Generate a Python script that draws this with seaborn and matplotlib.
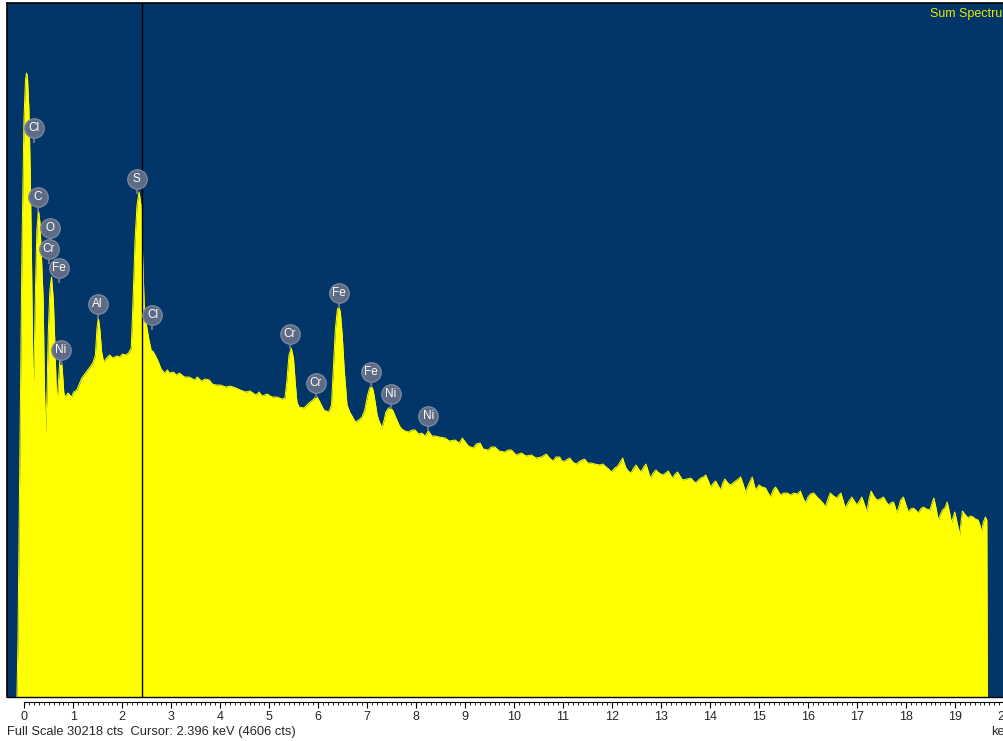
import matplotlib
matplotlib.use("Agg")
import matplotlib.pyplot as plt
import matplotlib.transforms as mtransforms
import seaborn as sns

# spectrum (keV, counts)
kev = [-0.149, -0.128, -0.088, -0.047, -0.006, 0.025, 0.045, 0.065, 0.096, 0.126,
       0.146, 0.166, 0.183, 0.203, 0.228, 0.258, 0.289, 0.320, 0.350, 0.387,
       0.410, 0.435, 0.461, 0.492, 0.523, 0.557, 0.594, 0.625, 0.651, 0.672,
       0.695, 0.726, 0.746, 0.777, 0.807, 0.828, 0.895, 0.964, 1.010, 1.072,
       1.123, 1.174, 1.235, 1.295, 1.356, 1.407, 1.452, 1.485, 1.513, 1.545,
       1.580, 1.621, 1.682, 1.743, 1.804, 1.885, 1.946, 2.007, 2.069, 2.129,
       2.184, 2.221, 2.262, 2.302, 2.343, 2.384, 2.420, 2.454, 2.495, 2.546,
       2.591, 2.638, 2.692, 2.739, 2.794, 2.862, 2.923, 2.964, 3.044, 3.105,
       3.167, 3.269, 3.370, 3.472, 3.533, 3.614, 3.695, 3.777, 3.838, 3.913,
       4.000, 4.117, 4.203, 4.320, 4.408, 4.523, 4.611, 4.727, 4.793, 4.855,
       4.957, 5.058, 5.160, 5.262, 5.322, 5.363, 5.404, 5.451, 5.495, 5.536,
       5.567, 5.607, 5.709, 5.811, 5.891, 5.967, 6.034, 6.116, 6.217, 6.272,
       6.309, 6.350, 6.390, 6.421, 6.452, 6.491, 6.532, 6.589, 6.644, 6.691,
       6.760, 6.827, 6.895, 6.950, 7.011, 7.051, 7.085, 7.122, 7.163, 7.204,
       7.234, 7.302, 7.346, 7.382, 7.437, 7.484, 7.529, 7.570, 7.606, 7.661,
       7.708, 7.773, 7.845, 7.915, 7.980, 8.048, 8.115, 8.180, 8.251, 8.322,
       8.387, 8.474, 8.591, 8.678, 8.794, 8.881, 8.943, 9.064, 9.166, 9.227,
       9.303, 9.369, 9.471, 9.532, 9.608, 9.695, 9.811, 9.878, 9.945, 10.041,
       10.149, 10.244, 10.352, 10.448, 10.555, 10.657, 10.722, 10.793, 10.854, 10.929,
       10.976, 11.032, 11.133, 11.200, 11.267, 11.343, 11.438, 11.505, 11.572, 11.647,
       11.743, 11.810, 11.877, 11.932, 11.979, 12.054, 12.115, 12.166, 12.216, 12.247,
       12.284, 12.329, 12.386, 12.441, 12.488, 12.542, 12.589, 12.644, 12.691, 12.736,
       12.781, 12.837, 12.894, 12.959, 13.031, 13.091, 13.146, 13.193, 13.234, 13.285,
       13.336, 13.386, 13.437, 13.518, 13.606, 13.660, 13.707, 13.762, 13.809, 13.864,
       13.911, 13.965, 14.012, 14.067, 14.114, 14.169, 14.216, 14.260, 14.301, 14.362,
       14.420, 14.464, 14.521, 14.576, 14.623, 14.667, 14.725, 14.790, 14.860, 14.895,
       14.928, 14.997, 15.064, 15.131, 15.186, 15.233, 15.288, 15.335, 15.389, 15.436,
       15.501, 15.573, 15.644, 15.708, 15.776, 15.843, 15.888, 15.945, 15.999, 16.050,
       16.115, 16.183, 16.249, 16.304, 16.351, 16.406, 16.453, 16.519, 16.589, 16.630,
       16.671, 16.712, 16.758, 16.823, 16.894, 16.945, 16.996, 17.047, 17.098, 17.148,
       17.199, 17.240, 17.287, 17.342, 17.402, 17.474, 17.539, 17.586, 17.641, 17.688,
       17.742, 17.779, 17.810, 17.850, 17.891, 17.946, 17.992, 18.047, 18.094, 18.149,
       18.196, 18.251, 18.297, 18.352, 18.420, 18.487, 18.532, 18.568, 18.613, 18.658,
       18.705, 18.745, 18.792, 18.840, 18.887, 18.928, 18.963, 18.995, 19.040, 19.097,
       19.128, 19.151, 19.213, 19.268, 19.315, 19.370, 19.416, 19.471, 19.508, 19.538,
       19.579, 19.620, 19.650, 19.661]
cts = [0, 2482, 10754, 19462, 25123, 26864, 27169, 27038, 25558, 22510,
       19462, 15979, 13280, 14673, 17721, 20333, 21204, 20682, 19245, 17285,
       13802, 11495, 12931, 15979, 17721, 18287, 17285, 15413, 13584, 12801,
       13584, 14673, 14978, 14238, 13280, 13062, 13236, 13062, 13280, 13367,
       13628, 13889, 14063, 14238, 14412, 14586, 14891, 16066, 16502, 15979,
       15021, 14586, 14760, 14891, 14760, 14847, 14804, 14934, 14891, 14978,
       15195, 17285, 19898, 21422, 21988, 21422, 19027, 16719, 16197, 15544,
       15108, 15021, 14804, 14586, 14281, 14107, 14238, 14107, 14151, 14020,
       14107, 13933, 13933, 13802, 13933, 13759, 13846, 13802, 13628, 13584,
       13584, 13497, 13541, 13454, 13367, 13280, 13323, 13149, 13280, 13106,
       13193, 13062, 13062, 12975, 13018, 13802, 14891, 15195, 14760, 13584,
       12844, 12627, 12583, 12801, 12931, 13106, 12844, 12496, 12409, 12714,
       14238, 15979, 16850, 17024, 16763, 15761, 14238, 12714, 12409, 12235,
       11974, 12061, 12191, 12496, 13149, 13454, 13541, 13367, 12844, 12278,
       12061, 11712, 12061, 12409, 12583, 12583, 12452, 12235, 12061, 11799,
       11669, 11582, 11538, 11625, 11625, 11451, 11495, 11364, 11582, 11364,
       11364, 11320, 11277, 11146, 11190, 11059, 11277, 10929, 10841, 11016,
       11059, 10798, 10754, 10885, 10885, 10711, 10667, 10754, 10754, 10537,
       10624, 10493, 10537, 10406, 10450, 10580, 10406, 10275, 10450, 10450,
       10275, 10275, 10406, 10232, 10145, 10275, 10363, 10188, 10188, 10145,
       10101, 10145, 10014, 9927, 9797, 9971, 10058, 10232, 10406, 10188,
       9971, 9840, 9753, 9971, 10101, 9927, 9797, 10014, 10145, 9840,
       9535, 9753, 9884, 9753, 9666, 9753, 9840, 9666, 9535, 9709,
       9797, 9622, 9448, 9492, 9535, 9405, 9318, 9448, 9535, 9579,
       9666, 9405, 9143, 9318, 9405, 9187, 9013, 9318, 9492, 9318,
       9230, 9318, 9405, 9492, 9579, 9318, 8926, 9274, 9579, 9274,
       9013, 9230, 9143, 9100, 8882, 8708, 9013, 9143, 8969, 8795,
       8882, 8882, 8795, 8882, 8839, 8969, 8708, 8447, 8708, 8839,
       8882, 8708, 8577, 8447, 8273, 8621, 8882, 8752, 8664, 8795,
       8882, 8577, 8229, 8490, 8708, 8534, 8360, 8534, 8708, 8403,
       8055, 8577, 8969, 8752, 8577, 8621, 8708, 8534, 8360, 8447,
       8490, 8273, 8011, 8273, 8577, 8708, 8403, 8055, 8186, 8229,
       8142, 8011, 8186, 8273, 8186, 8142, 8447, 8664, 8229, 7707,
       7968, 8142, 8229, 8490, 8055, 7576, 7837, 8055, 7620, 7053,
       7707, 8098, 7924, 7794, 7881, 7837, 7750, 7707, 7489, 7184,
       7620, 7837, 7707, 0]

# element markers
peak_names = ["Cl", "C", "O", "Cr", "Fe", "Ni", "Al", "S", "Cl",
              "Cr", "Cr", "Fe", "Fe", "Ni", "Ni"]
peak_kev = [0.197, 0.279, 0.523, 0.502, 0.706, 0.746, 1.499, 2.292, 2.618,
            5.424, 5.953, 6.421, 7.071, 7.478, 8.251]
peak_cts = [24774, 21770, 20420, 19506, 18679, 15108, 17111, 22554, 16632,
            15805, 13672, 17590, 14151, 13193, 12235]

xticks = list(range(21))
minor_ticks = [i / 10 for i in range(201)]
full_scale = 30218
cursor_kev = 2.396
cursor_cts = 4606

sns.set_style("white")
plt.rcParams['font.family'] = ['Liberation Sans', 'DejaVu Sans']

fig = plt.figure(figsize=(10.04, 7.41), dpi=100)
ax = fig.add_axes([7 / 1004, 44 / 741, 997 / 1004, 694 / 741])
ax.set_facecolor('#023668')

ax.fill_between(kev, cts, 0, color='#ffff00', lw=0)
sns.lineplot(x=kev, y=cts, ax=ax, color='#ffff00', lw=0.7, sort=False, estimator=None)
ax.axvline(cursor_kev, color='black', lw=1, zorder=3)
ax.axhline(0, color='black', lw=1, clip_on=False, zorder=3)

# gray bubbles with a little stem
stem = mtransforms.offset_copy(ax.transData, fig=fig, x=0, y=-11, units='dots')
ax.plot(peak_kev, peak_cts, ls='none', marker='|', ms=6, mew=1.5, color='#66728a',
        transform=stem, zorder=4)
ax.scatter(peak_kev, peak_cts, s=195, c='#5e6b85', edgecolors='#7b879c',
           linewidths=1, zorder=5)
for name, k, c in zip(peak_names, peak_kev, peak_cts):
    ax.text(k, c, name, color='white', fontsize=8.5, ha='center', va='center', zorder=6)

ax.set_xlim(-0.352, 19.925)
ax.set_ylim(0, full_scale)
ax.set_xticks(xticks)
ax.set_xticks(minor_ticks, minor=True)
ax.set_xticklabels([str(t) for t in xticks])
ax.set_yticks([])
ax.set_xlabel('')
ax.set_ylabel('')
ax.tick_params(axis='x', which='major', direction='out', length=4.5, width=0.8,
               color='black', labelsize=9, pad=2, bottom=True)
ax.tick_params(axis='x', which='minor', direction='out', length=2.2, width=0.6,
               color='black', bottom=True)

for side in ['left', 'top']:
    ax.spines[side].set_color('black')
    ax.spines[side].set_linewidth(1.2)
ax.spines['right'].set_visible(False)
ax.spines['bottom'].set_position(('outward', 3.6))
ax.spines['bottom'].set_bounds(0, 20)
ax.spines['bottom'].set_color('black')
ax.spines['bottom'].set_linewidth(0.8)

fig.text(930 / 1004, 1 - 14 / 741, 'Sum Spectrum', color='#e8e800', fontsize=9,
         ha='left', va='center')
fig.text(7 / 1004, 1 - 732 / 741,
         f'Full Scale {full_scale} cts  Cursor: {cursor_kev} keV ({cursor_cts} cts)',
         fontsize=9.3, ha='left', va='center')
fig.text(991 / 1004, 1 - 732 / 741, 'keV', fontsize=9.3, ha='left', va='center')

fig.savefig('out.png', dpi=100)
